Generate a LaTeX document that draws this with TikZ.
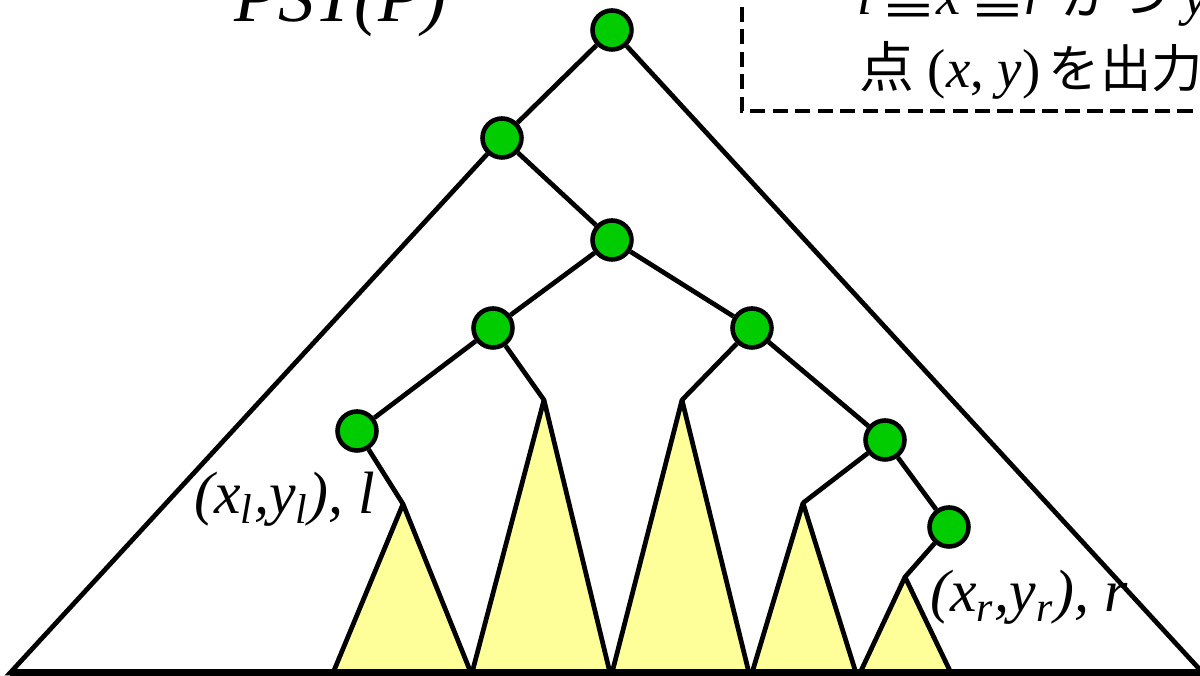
\documentclass[tikz,border=0pt]{standalone}
\usepackage{fontspec}
\setmainfont{Liberation Serif}
\newfontfamily\jpfont{Noto Sans CJK JP}
\usepackage{xcolor}
\definecolor{nodo}{RGB}{0,204,0}
\definecolor{subarb}{RGB}{255,255,153}
\usepackage{tikz}
\usetikzlibrary{positioning}

\begin{document}
\begin{tikzpicture}[line width=1.35pt,
    pt/.style={circle,draw,fill=nodo,minimum size=0.39cm,inner sep=0pt,line width=1.3pt},
    tri/.style={fill=subarb,draw,line join=round},
    etiq/.style={anchor=base west,inner sep=0pt,font=\fontsize{17}{20}\selectfont\itshape}]
  \useasboundingbox (0,0) rectangle (12,6.76);
  % arbol
  \node[pt] (a) at (6.12,6.46) {};
  \node[pt] (b) at (5.02,5.38) {};
  \node[pt] (c) at (6.12,4.36) {};
  \node[pt] (d) at (4.93,3.48) {};
  \node[pt] (e) at (7.52,3.48) {};
  \node[pt] (f) at (3.57,2.45) {};
  \node[pt] (g) at (8.85,2.36) {};
  \node[pt] (h) at (9.49,1.49) {};
  \coordinate (bl) at (0.10,0.03);
  \coordinate (br) at (12.03,0.03);
  % puntas de los subarboles
  \coordinate (t1) at (4.03,1.72);
  \coordinate (t2) at (5.44,2.76);
  \coordinate (t3) at (6.82,2.76);
  \coordinate (t4) at (8.03,1.73);
  \coordinate (t5) at (9.05,0.99);
  \draw[tri] (t1) -- (3.33,0.03) -- (4.71,0.03) -- cycle;
  \draw[tri] (t2) -- (4.72,0.03) -- (6.10,0.03) -- cycle;
  \draw[tri] (t3) -- (6.12,0.03) -- (7.49,0.03) -- cycle;
  \draw[tri] (t4) -- (7.52,0.03) -- (8.56,0.03) -- cycle;
  \draw[tri] (t5) -- (8.60,0.03) -- (9.51,0.03) -- cycle;
  \draw (b) -- (bl) -- (br) -- (a);
  \draw (a) -- (b) -- (c) -- (d) -- (f) -- (t1);
  \draw (d) -- (t2);
  \draw (c) -- (e) -- (t3);
  \draw (e) -- (g) -- (t4);
  \draw (g) -- (h) -- (t5);
  \draw[line width=2pt] (bl) -- (br);
  % textos
  \node[etiq] (lizq) at (1.92,1.62) {(x\textsubscript{l},y\textsubscript{l}), l};
  \node[etiq] (lder) at (9.28,0.64) {(x\textsubscript{r},y\textsubscript{r}), r};
  \node[etiq,font=\fontsize{20.5}{24}\selectfont\itshape] (tit) at (2.32,6.54) {PST(P)};
  \draw[line width=0.95pt,dash pattern=on 4.3pt off 2.1pt] (13.5,5.65) -- (7.42,5.65) -- (7.42,7.5);
  \node[anchor=base west,inner sep=0pt,font=\fontsize{15.6}{18}\selectfont] (q1) at (8.55,6.61)
    {\textit{l}\,{\jpfont ≦}\textit{x}\,{\jpfont ≦}\textit{r} {\jpfont かつ} \textit{y}};
  \node[anchor=base west,inner sep=0pt,font=\fontsize{15.6}{18}\selectfont] (q2) at (8.57,5.88)
    {{\jpfont 点} (\textit{x}, \textit{y})\hspace{0.15em}{\fontsize{14.6}{18}\jpfont を出力}};
\end{tikzpicture}
\end{document}
